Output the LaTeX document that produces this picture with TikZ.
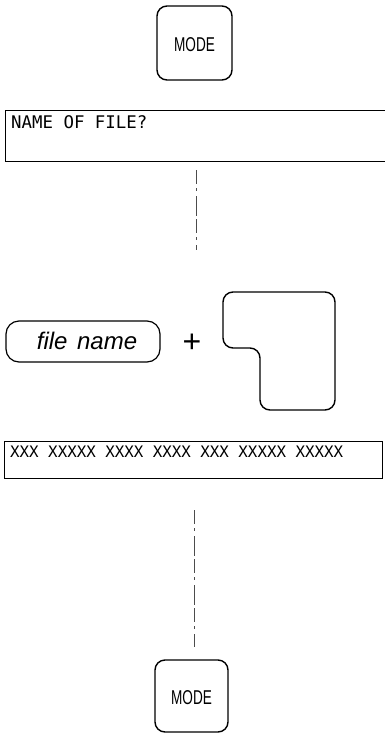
\documentclass[tikz,border=0pt]{standalone}
\usepackage{fontspec}
\setmainfont{Liberation Sans}
\newfontfamily\scrfont{DejaVu Sans Mono}
\newfontfamily\keyfont[FakeStretch=0.68]{Liberation Sans}
\begin{document}
\begin{tikzpicture}[x=1pt,y=-1pt,
  keybox/.style={draw,line width=1.4pt,rounded corners=10pt},
  screen/.style={line width=0.8pt},
  scrtext/.style={anchor=base west,inner sep=0pt},
  keytext/.style={inner sep=0pt,font=\keyfont\fontsize{20}{21}\selectfont},
  trail/.style={line width=0.5pt,black!70,dash pattern=on 14pt off 4pt on 3pt off 5pt on 20pt off 3pt}]
\useasboundingbox (0,0) rectangle (385,736);
% top MODE key
\draw[keybox] (157,6) rectangle (232,80);
\node[keytext] (mode1) at (194.5,45) {MODE};
% screen 1
\draw[screen] (385,110) -- (5,110) -- (5,161) -- (385,161);
\node[scrtext,font=\scrfont\fontsize{17.4}{18}\selectfont] (scr1) at (11,128) {NAME OF FILE?};
% dotted trail 1
\coordinate (t1a) at (196,170);
\coordinate (t1b) at (196,250);
\draw[trail] (t1a) -- (t1b);
% file name pill
\draw[line width=1.2pt,rounded corners=13pt] (6,321) rectangle (160,362);
\node[inner sep=0pt,font=\itshape\fontsize{24}{25}\selectfont] (fname) at (87,341) {file\hspace{0.4em}name};
\node[inner sep=0pt,font=\fontsize{32}{32}\selectfont] (plus) at (192,343) {+};
% L-shaped key
\draw[line width=1.4pt,rounded corners=10pt] (223,292) -- (335,292) -- (335,410) -- (260,410) -- (260,348) -- (223,348) -- cycle;
% screen 2
\draw[screen] (4,441) rectangle (382,478);
\node[scrtext,font=\scrfont\fontsize{15.8}{16}\selectfont] (scr2) at (10,457) {XXX XXXXX XXXX XXXX XXX XXXXX XXXXX};
% dotted trail 2
\coordinate (t2a) at (194,510);
\coordinate (t2b) at (194,647);
\draw[trail] (t2a) -- (t2b);
% bottom MODE key
\draw[keybox] (155,660) rectangle (228,732);
\node[keytext] (mode2) at (191.5,698) {MODE};
\end{tikzpicture}
\end{document}
